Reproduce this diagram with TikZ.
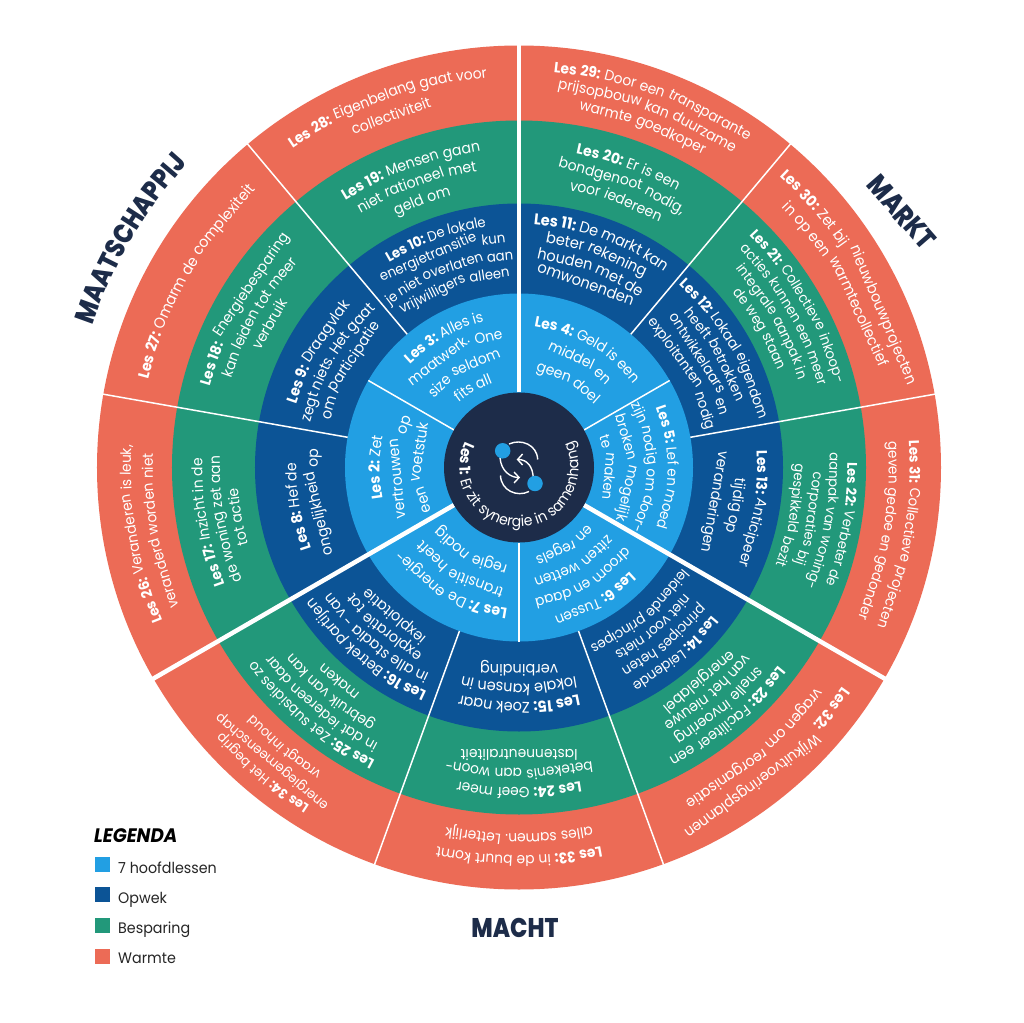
\documentclass[tikz,border=0pt]{standalone}
\usepackage{fontspec}
\setmainfont{Poppins}[FakeStretch=0.94]
\newfontfamily\heavy{Poppins ExtraBold}[FakeStretch=0.85]
\usetikzlibrary{decorations.text,arrows.meta}
\definecolor{lesblue}{HTML}{229FE3}
\definecolor{lesdark}{HTML}{0C5496}
\definecolor{lesgreen}{HTML}{22987A}
\definecolor{lescoral}{HTML}{EC6B56}
\definecolor{lesnavy}{HTML}{1D2C49}
\tikzset{
  ring/.style={circle,minimum size=#1*2pt,inner sep=0pt,outer sep=0pt},
  thickdiv/.style={draw=white,line width=4.5pt},
  thindiv/.style={draw=white,line width=1.5pt},
  lesword/.style={text=white,anchor=base,inner sep=0pt,outer sep=0pt},
  title/.style={text=lesnavy,inner sep=0pt},
  legtext/.style={text=black!85,font=\fontsize{15.2}{15.2}\selectfont,anchor=base west,inner sep=0pt},
  swatch/.style={minimum size=15pt,inner sep=0pt,outer sep=0pt,anchor=north west},
  icon/.style={draw=white,line width=1.4pt},
  dot/.style={circle,fill=lesblue,minimum size=15.5pt,inner sep=0pt}
}
\newdimen\arcpos
\newdimen\lmaxw
\newdimen\lgap
\newcount\lnum
\newbox\lbox
\newcommand{\lesmeas}[2]{\pgfinterruptpicture\global\setbox\lbox\hbox{\fontsize{#1}{#1}\selectfont #2}\endpgfinterruptpicture}
% id, angle, centre radius, line spacing, width of widest line, lines of words
\newcommand{\lesblock}[6]{%
  \pgfmathsetmacro\lgf{#3>280?1.0:0.8}%
  \global\lmaxw=0pt \global\lnum=0
  \lesmeas{13}{\ }\global\lgap=\lgf\wd\lbox
  \foreach \lline in {#6}{%
    \global\advance\lnum by 1
    \global\arcpos=0pt
    \foreach \w in \lline{%
      \lesmeas{13}{\w}%
      \global\advance\arcpos by \wd\lbox
      \global\advance\arcpos by \lgap}%
    \global\advance\arcpos by -\lgap
    \ifdim\arcpos>\lmaxw \global\lmaxw=\arcpos \fi
  }%
  \pgfmathsetmacro\fs{round((#5*1.02/\the\lmaxw)*130)/10}%
  \lesmeas{\fs}{\ }\global\lgap=\lgf\wd\lbox
  \foreach \lline [count=\li from 0] in {#6}{%
    \pgfmathsetmacro\lR{#3+((\the\lnum-1)/2-\li)*#4-0.27*\fs}%
    \global\arcpos=0pt
    \foreach \w in \lline{%
      \lesmeas{\fs}{\w}%
      \global\advance\arcpos by \wd\lbox
      \global\advance\arcpos by \lgap}%
    \global\advance\arcpos by -\lgap
    \pgfmathsetmacro\lT{\the\arcpos}%
    \global\arcpos=0pt
    \foreach \w [count=\wi] in \lline{%
      \lesmeas{\fs}{\w}%
      \pgfmathsetmacro\wmid{\the\arcpos+0.5*\the\wd\lbox}%
      \pgfmathsetmacro\lang{#2+(0.5*\lT-\wmid)/\lR*57.2958}%
      \global\advance\arcpos by \wd\lbox
      \global\advance\arcpos by \lgap
      \node[lesword,font=\fontsize{\fs}{\fs}\selectfont,rotate=\lang-90] (les#1-\li-\wi) at (\lang:\lR) {\w};
    }%
  }%
}
\begin{document}
\begin{tikzpicture}[x=1pt,y=1pt]
\useasboundingbox[fill=white] (-519,-554.5) rectangle (505,467.5);
% rings
\fill[lescoral] (0,0) circle (422);
\fill[lesgreen] (0,0) circle (347);
\fill[lesdark] (0,0) circle (264);
\fill[lesblue] (0,0) circle (174);
% thin dividers outer rings
\foreach \a in {50,10,-70,-110,170,130} \draw[thindiv] (\a:174) -- (\a:423);
% thin dividers inner ring
\foreach \a in {30,-90,150} \draw[thindiv] (\a:75) -- (\a:174);
% thick dividers
\foreach \a in {90,-30,210} \draw[thickdiv] (\a:75) -- (\a:423.5);
% hub
\node[ring=75,fill=lesnavy] (hub) at (0,0) {};
% hub text
\path[decorate,decoration={text along path,text align=center,
  text={|\fontsize{15}{15}\selectfont\bfseries\color{white}|Les 1:{\hbox to 4.5pt{\hss}}|\fontsize{15}{15}\selectfont\color{white}|Er zit synergie in samenhang}}]
  (150:59.5) arc[start angle=150,end angle=390,radius=59.5];
% icon
\draw[icon] (-10,23.5) .. controls (2,29) and (18,23) .. (18.7,8);
\draw[icon,-{Straight Barb[length=5pt,width=11pt]}] (-19,10) .. controls (-18,-4) and (-8,-10) .. (1,-10);
\draw[icon,-{Straight Barb[length=5pt,width=11pt]}] (14.3,-11) .. controls (14,1) and (8,8) .. (-2.3,8);
\draw[icon] (10,-24) .. controls (-2,-30) and (-18,-23) .. (-18.5,-8);
\node[dot] (dotA) at (-16.3,16.7) {};
\node[dot] (dotB) at (16,-16) {};
% blue
\lesblock{2}{180}{122}{21.5}{100}{{\textbf{Les},\textbf{2:},Zet},{vertrouwen,op},{een,voetstuk}}
\lesblock{3}{120}{123}{20.5}{102}{{\textbf{Les},\textbf{3:},Alles,is},{maatwerk.,One},{size,seldom},{fits,all}}
\lesblock{4}{60}{123}{22}{115}{{\textbf{Les},\textbf{4:},Geld,is,een},{middel,en},{geen,doel}}
\lesblock{5}{0}{121}{21}{128}{{\textbf{Les},\textbf{5:},Lef,en,moed},{zijn,nodig,om,door-},{broken,mogelijk},{te,maken}}
\lesblock{6}{-60}{124}{21}{104}{{\textbf{Les},\textbf{6:},Tussen},{droom,en,daad},{zitten,wetten},{en,regels}}
\lesblock{7}{-120}{123}{22}{122}{{\textbf{Les},\textbf{7:},De,energie-},{transitie,heeft},{regie,nodig}}
% dark
\lesblock{8}{190}{216}{21.5}{104}{{\textbf{Les},\textbf{8:},Hef,de},{ongelijkheid,op}}
\lesblock{9}{150}{217}{18.5}{130}{{\textbf{Les},\textbf{9:},Draagvlak},{zegt,niets.,Het,gaat},{om,participatie}}
\lesblock{10}{110}{220}{17.5}{131}{{\textbf{Les},\textbf{10:},De,lokale},{energietransitie,kun},{je,niet,overlaten,aan},{vrijwilligers,alleen}}
\lesblock{11}{70}{221}{17.5}{138}{{\textbf{Les},\textbf{11:},De,markt,kan},{beter,rekening},{houden,met,de},{omwonenden}}
\lesblock{12}{30}{220}{17.5}{156}{{\textbf{Les},\textbf{12:},Lokaal,eigendom},{heeft,betrokken},{ontwikkelaars,en},{exploitanten,nodig}}
\lesblock{13}{-10}{220}{22}{115}{{\textbf{Les},\textbf{13:},Anticipeer},{tijdig,op},{veranderingen}}
\lesblock{14}{-50}{220}{17.5}{120}{{\textbf{Les},\textbf{14:},Leidende},{principes,heten},{niet,voor,niets},{leidende,principes}}
\lesblock{15}{-90}{220}{19}{118}{{\textbf{Les},\textbf{15:},Zoek,naar},{lokale,kansen,in},{verbinding}}
\lesblock{16}{-130}{220}{17.5}{147}{{\textbf{Les},\textbf{16:},Betrek,partijen},{in,alle,stadia,-,van},{exploratie,tot},{iexploitatie}}
% green
\lesblock{17}{190}{303}{17.5}{127}{{\textbf{Les},\textbf{17:},Inzicht,in,de},{de,woning,zet,aan},{tot,actie}}
\lesblock{18}{150}{305}{18.5}{168}{{\textbf{Les},\textbf{18:},Energiebesparing},{kan,leiden,tot,meer},{verbruik}}
\lesblock{19}{110}{303}{19}{142}{{\textbf{Les},\textbf{19:},Mensen,gaan},{niet,rationeel,met},{geld,om}}
\lesblock{20}{70}{304}{18.5}{130}{{\textbf{Les},\textbf{20:},Er,is,een},{bondgenoot,{nodig,}},{voor,iedereen}}
\lesblock{21}{30}{305}{17}{171}{{\textbf{Les},\textbf{21:},Collectieve,inkoop-},{acties,kunnen,een,meer},{integrale,aanpak,in},{de,weg,staan}}
\lesblock{22}{-10}{305}{18}{135}{{\textbf{Les},\textbf{22:},Verbeter,de},{aanpak,van,woning-},{corporaties,bij},{gespikkeld,bezit}}
\lesblock{23}{-50}{305}{17}{142}{{\textbf{Les},\textbf{23:},Faciliteer,een},{snelle,invoering},{van,het,nieuwe},{energielabel}}
\lesblock{24}{-90}{305}{19}{144}{{\textbf{Les},\textbf{24:},Geef,meer},{betekenis,aan,woon-},{lastenneutraliteit}}
\lesblock{25}{-130}{305}{17}{155}{{\textbf{Les},\textbf{25:},Zet,subsidies,zo},{in,dat,iedereen,daar},{gebruik,van,kan},{maken}}
% coral
\lesblock{26}{190}{381}{22}{177}{{\textbf{Les},\textbf{26:},Veranderen,is,{leuk,}},{veranderd,worden,niet}}
\lesblock{27}{150}{385}{0}{216}{{\textbf{Les},\textbf{27:},Omarm,de,complexiteit}}
\lesblock{28}{110}{384}{22}{205}{{\textbf{Les},\textbf{28:},Eigenbelang,gaat,voor},{collectiviteit}}
\lesblock{29}{70}{383}{17.5}{203}{{\textbf{Les},\textbf{29:},Door,een,transparante},{prijsopbouw,kan,duurzame},{warmte,goedkoper}}
\lesblock{30}{30}{384}{21}{244}{{\textbf{Les},\textbf{30:},Zet,bij,nieuwbouwprojecten},{in,op,een,warmtecollectief}}
\lesblock{31}{-10}{384}{21}{187}{{\textbf{Les},\textbf{31:},Collectieve,projecten},{geven,gedoe,en,gedonder}}
\lesblock{32}{-50}{384}{21}{211}{{\textbf{Les},\textbf{32:},Wijkuitvoeringsplannen},{vragen,om,reorganisatie}}
\lesblock{33}{-90}{381}{22}{162}{{\textbf{Les},\textbf{33:},in,de,buurt,komt},{alles,samen.,Letterlijk}}
\lesblock{34}{-130}{384}{17.5}{139}{{\textbf{Les},\textbf{34:},Het,begrip},{energiegemeenschap},{vraagt,inhoud}}
% titles
\path[decorate,decoration={text along path,text align=center,
  text={|\fontsize{27.5}{27.5}\heavy\color{lesnavy}|MAATSCHAPPIJ}}]
  (171:449.5) arc[start angle=171,end angle=128,radius=449.5];
\node[title,font=\fontsize{28}{28}\heavy,rotate=-49] (markt) at (33.7:460) {MARKT};
\node[title,font=\fontsize{27}{27}\heavy] (macht) at (-4,-460.5) {MACHT};
% legend
\node[text=black,font=\fontsize{19.5}{19.5}\selectfont\bfseries\itshape,anchor=west,inner sep=0pt] (legenda) at (-425,-368) {LEGENDA};
\node[swatch,fill=lesblue] (sw1) at (-424,-389.5) {};
\node[swatch,fill=lesdark] (sw2) at (-424,-419.5) {};
\node[swatch,fill=lesgreen] (sw3) at (-424,-450.5) {};
\node[swatch,fill=lescoral] (sw4) at (-424,-481.5) {};
\node[legtext] (l1) at (-401,-405.5) {7 hoofdlessen};
\node[legtext] (l2) at (-401,-435.5) {Opwek};
\node[legtext] (l3) at (-401,-465.5) {Besparing};
\node[legtext] (l4) at (-401,-495.5) {Warmte};
\end{tikzpicture}
\end{document}
